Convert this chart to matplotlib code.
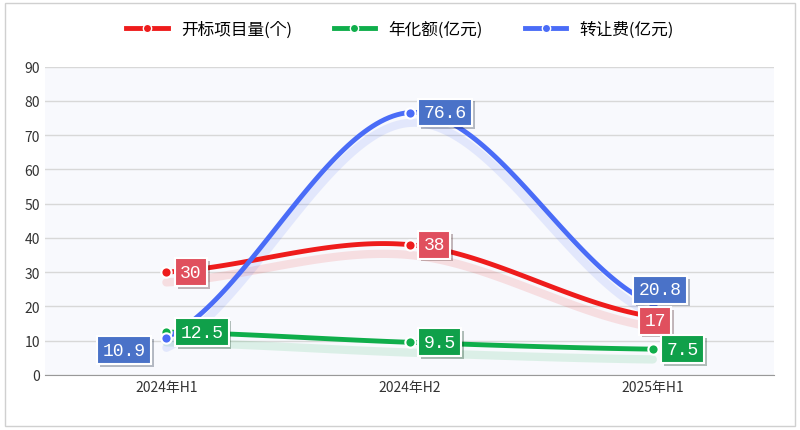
import matplotlib
matplotlib.use('Agg')
import matplotlib.pyplot as plt
import numpy as np
from matplotlib import patheffects as pe
from matplotlib.patches import Rectangle

CJK = ['Noto Sans CJK SC', 'Noto Sans CJK JP', 'Noto Sans CJK TC', 'Noto Sans CJK KR', 'DejaVu Sans']
plt.rcParams['font.family'] = CJK

categories = ['2024年H1', '2024年H2', '2025年H1']
series_names = ['开标项目量(个)', '年化额(亿元)', '转让费(亿元)']
projects = [30, 38, 17]
annual = [12.5, 9.5, 7.5]
fees = [10.9, 76.6, 20.8]

colors = ['#ee1c1c', '#0fae4b', '#4a6cf7']
box_colors = ['#e0505e', '#10a04a', '#4a72c8']
# label offsets in points (dx, dy) per series per point
offsets = [
    [(10, 0), (10, 0), (-6, -3)],
    [(10, 0), (10, 0), (10, 0)],
    [(-46, -9), (10, 0), (-10, 10)],
]


def smooth(xs, ys, n=60):
    # Catmull-Rom spline through the data points
    xs = np.asarray(xs, float); ys = np.asarray(ys, float)
    px = np.concatenate([[2 * xs[0] - xs[1]], xs, [2 * xs[-1] - xs[-2]]])
    py = np.concatenate([[ys[0]], ys, [ys[-1]]])
    ox, oy = [], []
    t = np.linspace(0, 1, n)
    for i in range(1, len(px) - 2):
        for arr, out in ((px, ox), (py, oy)):
            p0, p1, p2, p3 = arr[i - 1:i + 3]
            out.extend(0.5 * (2 * p1 + (-p0 + p2) * t + (2 * p0 - 5 * p1 + 4 * p2 - p3) * t ** 2
                              + (-p0 + 3 * p1 - 3 * p2 + p3) * t ** 3))
    return np.array(ox), np.array(oy)


fig = plt.figure(figsize=(8, 4.31), dpi=100)
fig.patches.append(Rectangle((0.006, 0.01), 0.988, 0.98, transform=fig.transFigure,
                             fill=False, edgecolor='#d0d0d0', lw=1))
ax = fig.add_axes([0.056, 0.128, 0.912, 0.715])
ax.set_facecolor('#f8f9fd')
x = np.arange(len(categories))
ax.set_xlim(-0.5, 2.5)
ax.set_ylim(0, 90)
ax.set_yticks(range(0, 91, 10))
ax.grid(axis='y', color='#d8d8d8', lw=1)
ax.set_axisbelow(True)
for s in ['top', 'right', 'left']:
    ax.spines[s].set_visible(False)
ax.spines['bottom'].set_color('#999999')
ax.tick_params(length=0, labelsize=10, colors='#333333')
ax.set_xticks(x)
ax.set_xticklabels(categories)

all_series = [projects, annual, fees]
for k, (vals, c) in enumerate(zip(all_series, colors)):
    sx, sy = smooth(x, vals)
    ax.plot(sx, sy - 3, color=c, lw=6, alpha=0.12, solid_capstyle='round', zorder=2)
    ax.plot(sx, sy, color=c, lw=3.5, zorder=3, label=series_names[k])
    ax.scatter(x, vals, s=55, color=c, edgecolor='white', linewidth=1.5, zorder=4)
    for i, v in enumerate(vals):
        dx, dy = offsets[k][i]
        ax.annotate(f'{v:g}', (x[i], v), xytext=(dx, dy), textcoords='offset points',
                    ha='left', va='center', fontsize=13, color='white',
                    fontfamily='Liberation Mono', zorder=6,
                    bbox=dict(boxstyle='square,pad=0.3', fc=box_colors[k], ec='white', lw=1.5,
                              path_effects=[pe.withSimplePatchShadow(offset=(2, -2), alpha=0.3)]))

handles = [plt.Line2D([0], [0], color=c, lw=3.5, marker='o', markersize=6,
                      markeredgecolor='white') for c in colors]
fig.legend(handles, series_names, loc='upper center', bbox_to_anchor=(0.5, 0.985), ncol=3,
           frameon=False, fontsize=12, handlelength=2.5, columnspacing=2.5)

fig.savefig('out.png', dpi=100)
